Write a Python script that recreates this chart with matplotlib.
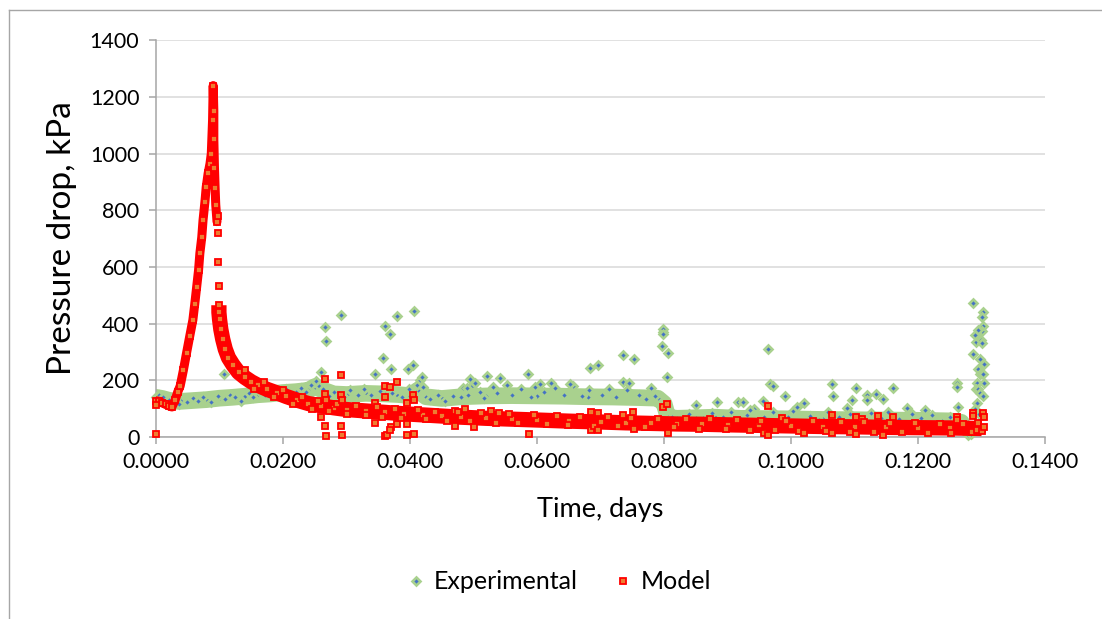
"""
Pressure drop against time: experimental readings vs model output.
"""
import matplotlib
matplotlib.use("Agg")
import matplotlib.pyplot as plt
from matplotlib.lines import Line2D
from matplotlib.ticker import FuncFormatter, MultipleLocator

plt.rcParams["font.family"] = ["Lato", "DejaVu Sans"]

GREEN = "#A9D18E"
BLUE = "#4472C4"
ORANGE = "#ED7D31"
RED = "#FF0000"

# ---- Experimental: centre of the dense band (days, kPa)
exp_band_t = [0.0000, 0.0010, 0.0020, 0.0030, 0.0040, 0.0060, 0.0080, 0.0100,
              0.0120, 0.0140, 0.0160, 0.0180, 0.0200, 0.0220, 0.0240, 0.0250,
              0.0260, 0.0280, 0.0300, 0.0330, 0.0360, 0.0380, 0.0400, 0.0412,
              0.0425, 0.0450, 0.0480, 0.0520, 0.0560, 0.0600, 0.0640, 0.0680,
              0.0720, 0.0760, 0.0790, 0.0800, 0.0806, 0.0820, 0.0850, 0.0880,
              0.0920, 0.0960, 0.1000, 0.1050, 0.1100, 0.1150, 0.1200, 0.1250,
              0.1268]
exp_band_p = [140, 136, 130, 126, 126, 129, 132, 137,
              140, 144, 149, 152, 157, 160, 165, 178,
              168, 152, 150, 154, 152, 150, 146, 165,
              142, 136, 142, 145, 146, 145, 144, 142,
              141, 139, 137, 118, 70, 66, 68, 70,
              66, 65, 64, 62, 61, 60, 59, 57,
              52]

# ---- Experimental: individual readings in and around the band
exp_scatter_t = [0.0004, 0.0011, 0.0020, 0.0036, 0.0048, 0.0058, 0.0066, 0.0074,
                 0.0086, 0.0097, 0.0108, 0.0116, 0.0125, 0.0134, 0.0146, 0.0152,
                 0.0163, 0.0172, 0.0183, 0.0194, 0.0205, 0.0214, 0.0228, 0.0236,
                 0.0244, 0.0252, 0.0257, 0.0263, 0.0272, 0.0281, 0.0296, 0.0305,
                 0.0318, 0.0327, 0.0339, 0.0352, 0.0371, 0.0388, 0.0399, 0.0411,
                 0.0416, 0.0421, 0.0432, 0.0444, 0.0455, 0.0468, 0.0483, 0.0491,
                 0.0498, 0.0510, 0.0516, 0.0530, 0.0537, 0.0552, 0.0561, 0.0575,
                 0.0590, 0.0597, 0.0611, 0.0628, 0.0642, 0.0657, 0.0670, 0.0681,
                 0.0703, 0.0714, 0.0724, 0.0742, 0.0760, 0.0771, 0.0785, 0.0812,
                 0.0828, 0.0840, 0.0862, 0.0875, 0.0893, 0.0905, 0.0912, 0.0930,
                 0.0942, 0.0958, 0.0972, 0.0995, 0.1003, 0.1030, 0.1044, 0.1058,
                 0.1075, 0.1093, 0.1108, 0.1126, 0.1141, 0.1152, 0.1170, 0.1190,
                 0.1205, 0.1222, 0.1238, 0.1250, 0.1262, 0.1272, 0.1278, 0.1283]
exp_scatter_p = [150, 142, 130, 118, 122, 136, 128, 140,
                 124, 146, 133, 150, 142, 128, 156, 140,
                 160, 148, 163, 150, 170, 152, 172, 160,
                 185, 198, 180, 168, 146, 160, 142, 165,
                 150, 170, 148, 162, 155, 140, 168, 185,
                 200, 176, 135, 150, 128, 145, 172, 150,
                 180, 160, 138, 175, 155, 182, 150, 168,
                 140, 178, 158, 172, 150, 180, 145, 165,
                 150, 170, 140, 165, 150, 135, 145, 72,
                 60, 80, 66, 85, 70, 90, 62, 78,
                 100, 72, 88, 70, 92, 75, 60, 88,
                 70, 82, 58, 85, 68, 90, 62, 80,
                 66, 78, 55, 72, 60, 20, 8, 12]

# ---- Experimental: isolated high readings and the final spike
exp_peak_t = [0.0107, 0.0260, 0.0266, 0.0267, 0.0291, 0.0345, 0.0358, 0.0361,
              0.0368, 0.0370, 0.0379, 0.0397, 0.0405, 0.0406, 0.0418, 0.0489,
              0.0494, 0.0502, 0.0521, 0.0542, 0.0586, 0.0605, 0.0622, 0.0652,
              0.0684, 0.0696, 0.0735, 0.0736, 0.0745, 0.0753, 0.0780, 0.0798,
              0.0798, 0.0799, 0.0797, 0.0806, 0.0804, 0.0851, 0.0883, 0.0917,
              0.0925, 0.0936, 0.0956, 0.0964, 0.0966, 0.0971, 0.0990, 0.1009,
              0.1020, 0.1064, 0.1066, 0.1088, 0.1102, 0.1096, 0.1119, 0.1120,
              0.1134, 0.1144, 0.1160, 0.1182, 0.1211, 0.1261, 0.1261, 0.1263,
              0.1287, 0.1302, 0.1301, 0.1302, 0.1300, 0.1295, 0.1290, 0.1291,
              0.1299, 0.1300, 0.1287, 0.1298, 0.1303, 0.1294, 0.1297, 0.1302,
              0.1292, 0.1303, 0.1291, 0.1295, 0.1297, 0.1302, 0.1293, 0.1290,
              0.1296]
exp_peak_p = [222, 229, 388, 340, 430, 222, 278, 391,
              363, 240, 428, 240, 254, 445, 213, 173,
              205, 190, 215, 208, 222, 187, 191, 187,
              242, 254, 195, 289, 190, 275, 172, 371,
              381, 363, 322, 298, 210, 113, 124, 124,
              124, 95, 128, 310, 187, 180, 145, 106,
              120, 187, 145, 102, 172, 130, 148, 130,
              151, 134, 172, 102, 96, 190, 176, 106,
              472, 441, 423, 391, 374, 376, 360, 335,
              342, 331, 292, 275, 257, 240, 222, 222,
              190, 190, 169, 169, 155, 145, 120, 100,
              80]

# ---- Model: start, rise and sharp peak
model_rise_t = [0.0000, 0.0005, 0.0010, 0.0015, 0.0020, 0.0025, 0.0030, 0.0034,
                0.0038, 0.0043, 0.0048, 0.0053, 0.0058, 0.0061, 0.0064, 0.0067,
                0.0069, 0.0072, 0.0074, 0.0077, 0.0079, 0.0082, 0.0085, 0.0087,
                0.0089, 0.0090, 0.0091, 0.0091, 0.0092, 0.0093, 0.0094, 0.0096]
model_rise_p = [128, 126, 120, 115, 110, 106, 130, 158,
                180, 235, 296, 355, 413, 470, 530, 590,
                648, 705, 765, 830, 882, 930, 965, 1000,
                1118, 1240, 1150, 1050, 950, 880, 820, 760]

# ---- Model: decay after the peak
model_tail_t = [0.0099, 0.0099, 0.0100, 0.0102, 0.0105, 0.0109, 0.0114, 0.0121,
                0.0130, 0.0140, 0.0150, 0.0160, 0.0175, 0.0190, 0.0205, 0.0222,
                0.0240, 0.0260, 0.0280, 0.0300, 0.0330, 0.0360, 0.0390, 0.0420,
                0.0450, 0.0480, 0.0520, 0.0560, 0.0600, 0.0650, 0.0700, 0.0740,
                0.0780, 0.0820, 0.0860, 0.0900, 0.0950, 0.1000, 0.1050, 0.1100,
                0.1150, 0.1200, 0.1250, 0.1300]
model_tail_p = [465, 440, 415, 380, 345, 310, 280, 255,
                228, 210, 195, 183, 168, 156, 143, 130,
                118, 110, 103, 97, 92, 87, 82, 78,
                74, 70, 66, 63, 60, 56, 53, 50,
                48, 46, 45, 43, 41, 39, 37, 36,
                34, 33, 32, 30]

# ---- Model: scattered values around the decay band and outliers
model_scatter_t = [0.0000, 0.0000, 0.0098, 0.0099, 0.0098, 0.0097, 0.0140, 0.0155,
                   0.0170, 0.0185, 0.0200, 0.0215, 0.0230, 0.0245, 0.0255, 0.0260,
                   0.0266, 0.0266, 0.0267, 0.0266, 0.0267, 0.0272, 0.0285, 0.0291,
                   0.0292, 0.0293, 0.0292, 0.0293, 0.0300, 0.0315, 0.0330, 0.0345,
                   0.0345, 0.0348, 0.0356, 0.0361, 0.0361, 0.0361, 0.0364, 0.0368,
                   0.0370, 0.0369, 0.0376, 0.0379, 0.0379, 0.0385, 0.0395, 0.0395,
                   0.0395, 0.0405, 0.0406, 0.0406, 0.0412, 0.0425, 0.0440, 0.0458,
                   0.0470, 0.0470, 0.0475, 0.0487, 0.0495, 0.0501, 0.0512, 0.0528,
                   0.0535, 0.0540, 0.0555, 0.0570, 0.0587, 0.0595, 0.0615, 0.0632,
                   0.0648, 0.0667, 0.0685, 0.0685, 0.0690, 0.0696, 0.0696, 0.0712,
                   0.0728, 0.0736, 0.0748, 0.0751, 0.0752, 0.0770, 0.0790, 0.0798,
                   0.0805, 0.0806, 0.0815, 0.0835, 0.0855, 0.0872, 0.0898, 0.0915,
                   0.0935, 0.0952, 0.0958, 0.0964, 0.0964, 0.0975, 0.0985, 0.0992,
                   0.1012, 0.1020, 0.1035, 0.1055, 0.1065, 0.1065, 0.1078, 0.1092,
                   0.1102, 0.1102, 0.1112, 0.1115, 0.1130, 0.1137, 0.1144, 0.1155,
                   0.1160, 0.1175, 0.1195, 0.1215, 0.1235, 0.1252, 0.1261, 0.1262,
                   0.1270, 0.1285, 0.1287, 0.1287, 0.1292, 0.1295, 0.1300, 0.1302,
                   0.1303, 0.1304]
model_scatter_p = [10, 112, 617, 532, 720, 780, 235, 170,
                   195, 140, 165, 115, 140, 100, 128, 70,
                   204, 151, 130, 40, 4, 92, 118, 218,
                   148, 130, 40, 7, 82, 110, 78, 49,
                   120, 105, 70, 180, 141, 4, 7, 176,
                   35, 23, 100, 194, 46, 68, 120, 46,
                   7, 148, 130, 11, 95, 62, 90, 58,
                   92, 39, 88, 99, 55, 35, 84, 92,
                   50, 85, 80, 48, 11, 77, 45, 75,
                   42, 72, 88, 25, 40, 85, 25, 70,
                   38, 78, 68, 88, 28, 36, 65, 107,
                   116, 14, 34, 62, 30, 62, 28, 60,
                   26, 58, 14, 109, 7, 24, 67, 57,
                   22, 14, 55, 20, 78, 14, 53, 18,
                   71, 11, 64, 52, 17, 73, 7, 50,
                   71, 16, 48, 15, 47, 14, 71, 60,
                   46, 16, 85, 74, 25, 50, 20, 85,
                   71, 35]

fig = plt.figure(figsize=(11.02, 6.19), dpi=100)
ax = fig.add_axes([0.1416, 0.294, 0.8068, 0.641])

exp_marker = dict(linestyle="none", marker="D", markersize=3.6,
                  markerfacecolor=BLUE, markeredgecolor=GREEN,
                  markeredgewidth=1.9, clip_on=False)
model_marker = dict(linestyle="none", marker="s", markersize=4.8,
                    markerfacecolor=ORANGE, markeredgecolor=RED,
                    markeredgewidth=1.3, clip_on=False)

# experimental series
ax.plot(exp_band_t, exp_band_p, color=GREEN, linewidth=12,
        solid_joinstyle="round", solid_capstyle="round", zorder=2)
ax.plot(exp_band_t, exp_band_p, zorder=3, **exp_marker)
ax.plot(exp_scatter_t, exp_scatter_p, zorder=3, **exp_marker)
ax.plot(exp_peak_t, exp_peak_p, zorder=3, label="Experimental", **exp_marker)

# model series
ax.plot(model_rise_t, model_rise_p, color=RED, linewidth=6.5,
        solid_joinstyle="round", solid_capstyle="round", zorder=4)
ax.plot(model_tail_t, model_tail_p, color=RED, linewidth=11,
        solid_joinstyle="round", solid_capstyle="butt", zorder=4)
ax.plot(model_rise_t, model_rise_p, zorder=5, **model_marker)
ax.plot(model_tail_t, model_tail_p, zorder=5, **model_marker)
ax.plot(model_scatter_t, model_scatter_p, zorder=5, label="Model",
        **model_marker)

ax.set_xlim(0, 0.14)
ax.set_ylim(0, 1400)
ax.xaxis.set_major_locator(MultipleLocator(0.02))
ax.yaxis.set_major_locator(MultipleLocator(200))
ax.xaxis.set_major_formatter(FuncFormatter(lambda v, _: "{:.4f}".format(v)))
ax.grid(axis="y", color="#D9D9D9", linewidth=1.1, zorder=0)
ax.set_axisbelow(True)
for side in ("top", "right"):
    ax.spines[side].set_visible(False)
for side in ("left", "bottom"):
    ax.spines[side].set_color("#A6A6A6")
    ax.spines[side].set_linewidth(1.1)
ax.tick_params(axis="both", direction="out", length=5, width=1.1,
               color="#A6A6A6", labelsize=15.5, labelcolor="black")
ax.tick_params(axis="y", pad=7)
ax.tick_params(axis="x", pad=6)

ax.set_xlabel("Time, days", fontsize=19.5, labelpad=18)
ax.set_ylabel("Pressure drop, kPa", fontsize=24, labelpad=9)

fig.legend(loc="center", bbox_to_anchor=(0.508, 0.06), ncol=2,
           frameon=False, fontsize=18, handlelength=0.6, handletextpad=0.4,
           columnspacing=1.5, markerscale=1.0)

# chart-area border, as in the source image
fig.add_artist(Line2D([8.5 / 1102, 8.5 / 1102], [0, 1 - 9.5 / 619],
                      transform=fig.transFigure, color="#A6A6A6", linewidth=1))
fig.add_artist(Line2D([8.5 / 1102, 1], [1 - 9.5 / 619, 1 - 9.5 / 619],
                      transform=fig.transFigure, color="#A6A6A6", linewidth=1))

fig.savefig("out.png", dpi=100)
